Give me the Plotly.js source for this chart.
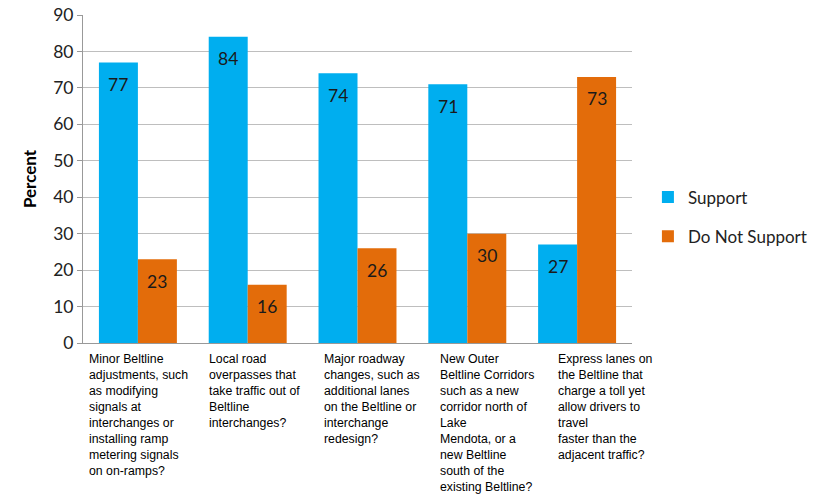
<!DOCTYPE html>
<html><head><meta charset="utf-8">
<script src="https://cdn.plot.ly/plotly-3.0.1.min.js"></script>
<style>body{margin:0;background:#fff}#c{width:825px;height:495px}</style>
</head><body><div id="c"></div>
<script>
const categories = ["c1","c2","c3","c4","c5"];
const categoryLabels = [
  "Minor Beltline<br>adjustments, such<br>as modifying<br>signals at<br>interchanges or<br>installing ramp<br>metering signals<br>on on-ramps?",
  "Local road<br>overpasses that<br>take traffic out of<br>Beltline<br>interchanges?",
  "Major roadway<br>changes, such as<br>additional lanes<br>on the Beltline or<br>interchange<br>redesign?",
  "New Outer<br>Beltline Corridors<br>such as a new<br>corridor north of<br>Lake<br>Mendota, or a<br>new Beltline<br>south of the<br>existing Beltline?",
  "Express lanes on<br>the Beltline that<br>charge a toll yet<br>allow drivers to<br>travel<br>faster than the<br>adjacent traffic?"
];
const support = [77, 84, 74, 71, 27];
const doNotSupport = [23, 16, 26, 30, 73];
const yTicks = [0,10,20,30,40,50,60,70,80,90];
const labelShift = [4, 14, 19, 26, 34];

const font = "Lato, 'Open Sans', sans-serif";
const traces = [
  {type:'bar', name:'Support', x:categories, y:support,
   marker:{color:'#00AEEF'}, legendgroup:'a'},
  {type:'bar', name:'Do Not Support', x:categories, y:doNotSupport,
   marker:{color:'#E36C0A'}, legendgroup:'b'}
];
const annotations = categories.map((c,i)=>({
  xref:'x', yref:'paper', x:i-0.5, y:0, xanchor:'left', yanchor:'top',
  xshift:labelShift[i], yshift:-7, text:categoryLabels[i], showarrow:false, align:'left',
  font:{family:'Liberation Sans, Arial, sans-serif', size:12.3, color:'#000'}
}));
[[support,-19.5],[doNotSupport,19.5]].forEach(([vals,dx])=>{
  vals.forEach((v,i)=>annotations.push({
    xref:'x', yref:'y', x:categories[i], y:v, xshift:dx, yshift:-22,
    xanchor:'center', yanchor:'middle', showarrow:false, text:String(v),
    font:{family:font, size:17.5, color:'#1a1a1a'}
  }));
});
const layout = {
  width:825, height:495, margin:{l:83, r:193, t:15, b:152, autoexpand:false},
  paper_bgcolor:'#fff', plot_bgcolor:'#fff',
  barmode:'group', bargap:0.29, bargroupgap:0,
  showlegend:true,
  legend:{x:1.029, y:0.384, yanchor:'middle', xanchor:'left', font:{family:font, size:17, color:'#222'},
          traceorder:'grouped', tracegroupgap:14, itemwidth:30},
  xaxis:{showticklabels:false, showline:true, linecolor:'#999', linewidth:1, ticks:'', range:[-0.5,4.5]},
  yaxis:{range:[0,90], tickvals:yTicks, showgrid:true, gridcolor:'#BEBEBE', gridwidth:1,
         showline:true, linecolor:'#999', ticks:'outside', ticklen:5, tickcolor:'#999',
         tickfont:{family:font, size:17.5, color:'#222'}, zeroline:false,
         title:{text:'<b>Percent</b>', font:{family:font, size:17, color:'#000'}, standoff:12}},
  annotations:annotations
};
Plotly.newPlot('c', traces, layout, {displayModeBar:false, staticPlot:true});
</script></body></html>
